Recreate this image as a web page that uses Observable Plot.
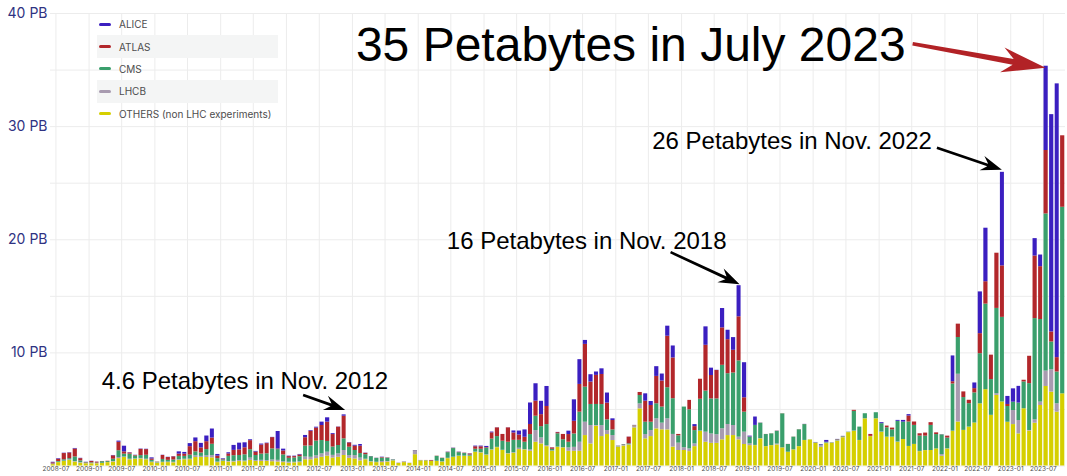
<!DOCTYPE html>
<html><head><meta charset="utf-8">
<script src="https://cdn.jsdelivr.net/npm/d3@7"></script>
<script src="https://cdn.jsdelivr.net/npm/@observablehq/plot@0.6"></script>
<style>
body{margin:0;background:#fff;}
#wrap{position:relative;width:1067px;height:476px;}
#legend{position:absolute;left:97px;top:13px;width:181px;font-family:Inter,sans-serif;font-size:10px;color:#4d4d4d;z-index:2;}
.row{height:22.4px;display:flex;align-items:center;}
.row.alt{background:#f4f5f5;}
.sw{width:12px;height:3px;border-radius:1.5px;margin-left:2px;margin-right:8px;}
</style></head><body><div id="wrap"><div id="legend"></div></div>
<script>
// Monthly transfer volume (PB), June 2008 .. October 2023
const firstMonth = "2008-06";
const others = [
.12,.30,.40,.50,.35,.25,.20,.20,.20,.22,.30,.35,
.65,.75,.55,.60,.62,.55,.30,.25,.30,.30,.28,.50,
.55,.56,.75,.75,.75,.72,.30,.40,.35,.35,.40,.38,
.50,.40,.40,.40,.38,.35,.30,.25,.28,.30,.55,.55,
.65,.77,.87,.70,.77,.93,.68,.62,.45,.55,.35,.30,
.30,.35,.45,.22,.30,.23,1.00,.45,.45,.40,.40,.35,
.65,.75,.85,.85,.85,1.20,1.15,.95,1.40,1.62,1.37,1.07,
1.12,1.45,1.42,1.30,2.10,1.95,1.71,1.30,1.65,1.60,1.30,1.30,
1.30,2.69,1.95,3.52,2.60,2.78,2.25,1.66,1.76,1.85,3.37,5.05,
2.40,2.60,3.28,3.20,3.19,1.67,1.37,1.37,1.27,1.71,3.07,2.10,
2.00,2.00,2.31,2.69,2.69,2.31,1.90,1.80,1.80,2.40,1.71,1.80,
1.86,1.60,1.21,1.42,1.71,2.25,2.30,2.00,1.65,1.98,2.00,2.20,
2.50,2.95,3.07,2.25,4.17,2.60,4.17,2.98,2.55,2.55,2.10,2.34,
1.73,1.90,1.27,1.36,1.37,1.51,.86,1.50,3.06,3.89,3.15,3.44,
3.80,5.50,6.75,4.48,6.24,5.66,3.87,3.66,2.84,5.06,3.09,3.78,
5.35,7.03,6.53,4.76,6.38];
const lhcb = [
.03,.03,.03,.05,.05,.05,.03,.03,.02,.02,.01,.05,
.10,.05,.05,.03,.05,.05,.05,.03,.03,.05,.05,.05,
.05,.05,.15,.10,.15,.20,.05,.04,.05,.06,.08,.06,
.20,.08,.10,.08,.15,.15,.08,.08,.05,.07,.24,.22,
.25,.30,.35,.24,.30,.44,.24,.30,.25,.05,.03,.03,
.10,.05,.02,.01,.05,.02,.30,.02,.01,.01,.02,.02,
.03,.03,.03,.02,.02,.03,.03,.03,.03,.03,.02,.03,
.05,.12,.03,.12,1.03,.53,.09,.03,.02,.02,.30,.35,
.80,1.18,1.63,.06,.97,.35,.44,.05,.06,.03,.15,.44,
.38,.53,.89,.59,.98,1.12,.65,.24,.24,.24,.02,.89,
.83,.77,.98,.98,.89,.24,1.09,.15,.02,.02,.01,.01,
.08,.01,.01,.01,.01,.01,.00,.03,.15,.05,.01,.03,
.04,.03,.02,.01,.01,.02,.01,.02,.00,.00,.02,.00,
.00,.01,.02,.01,.00,.00,.15,.02,.02,4.22,.00,.00,
.00,.00,.00,.00,.15,.00,.00,1.24,1.18,.00,.05,.30,
.30,1.36,1.98,.74,.00];
const cms = [
.03,.07,.12,.10,.40,.15,.05,.05,.04,.14,.08,.20,
.60,.25,.45,.25,.25,.35,.15,.05,.25,.15,.20,.30,
.25,.35,.35,.30,.55,1.00,.30,.10,.45,.50,.45,.55,
.74,.45,.55,.60,.98,.95,.60,.35,.38,.45,.97,1.00,
1.30,1.18,.95,.74,.74,1.03,.74,.45,.40,.40,.44,.34,
.30,.28,.06,.01,.01,.00,.03,.01,.02,.02,.43,.30,
.50,.76,.30,.23,.10,.25,.30,.60,.95,.95,.80,1.00,
1.10,.70,.65,1.36,1.27,1.00,1.86,.15,1.18,.70,.50,1.18,
2.66,3.10,1.86,1.86,1.86,.95,.50,.03,.05,.08,.03,.74,
1.09,.74,1.33,1.42,2.75,3.16,.65,3.60,3.46,1.18,2.81,3.63,
3.10,3.16,5.61,4.49,4.64,6.74,1.77,.60,1.77,1.36,1.06,1.03,
1.12,3.00,.68,1.12,1.48,1.40,.01,.03,.05,.05,.03,.07,
.05,.02,1.74,1.18,.44,.00,.53,.74,.83,.65,1.83,1.54,
2.16,1.68,1.36,1.27,2.22,1.27,1.74,.95,4.17,3.25,2.90,2.07,
2.66,4.43,7.56,3.16,7.54,7.48,1.39,.74,1.54,2.37,4.14,8.95,
7.30,13.89,2.45,2.81,16.49];
const atlas = [
.10,.20,.55,.50,.70,.20,.03,.12,.08,.02,.03,.30,
.75,.20,.10,.05,.55,.50,.12,.02,.35,.25,.28,.20,
.20,.75,.90,.45,.70,.55,.22,.05,.22,.47,.50,.62,
.80,.30,.80,.90,1.00,.05,.35,.15,.12,.15,.74,1.30,
1.15,1.33,1.71,1.10,1.62,2.00,.38,.38,.65,.12,.01,.01,
.05,.03,.01,.01,.01,.00,.02,.01,.01,.06,.02,.02,
.03,.02,.03,.03,.09,.22,.22,.05,.55,.77,.60,1.27,
.65,.47,.44,.89,1.33,1.06,1.60,.12,.10,.47,.68,1.12,
2.45,3.78,1.98,2.57,2.66,1.48,.83,.01,.02,.59,.03,.27,
1.86,1.48,2.42,2.30,4.55,3.60,.12,.00,.83,.35,1.77,4.05,
2.07,2.51,3.31,3.01,2.01,3.90,1.27,.02,.00,.01,.01,.01,
.02,.01,.01,.01,.01,.01,.00,.01,.00,.02,.01,.03,
.02,.00,.09,.00,.00,.17,.00,.00,.15,.15,.00,.00,
.53,.30,.20,.27,.24,.15,.01,.17,.20,1.18,.50,.30,
.38,1.77,1.98,2.16,4.88,4.55,.18,.00,.00,.15,2.42,5.53,
4.67,5.61,.89,1.27,6.32];
const alice = [
.05,.05,.03,.03,.05,.03,.02,.02,.01,.00,.00,.03,
.10,.50,.03,.02,.03,.03,.10,.00,.02,.02,.02,.20,
.15,.27,.33,.40,.50,.80,.15,.05,.10,.44,.59,.44,
.08,.06,.09,.04,.02,1.55,.16,.04,.04,.05,.20,.06,
.08,.30,.38,.08,.02,.12,.03,.08,.15,.02,.01,.01,
.03,.01,.01,.00,.00,.00,.02,.00,.00,.00,.00,.00,
.02,.02,.02,.01,.02,.06,.06,.10,.07,.01,.00,.01,
.18,.35,.65,1.90,1.54,1.18,1.77,.01,.02,.00,.30,1.90,
2.19,.35,.65,.30,.50,.89,.15,.01,.01,.01,.01,.00,
.65,.35,.86,.62,.89,1.06,.00,.00,.00,.18,.00,1.63,
.65,.02,1.71,.83,1.12,2.75,3.10,.07,.74,.01,.00,.00,
.01,.00,.00,.00,.00,.01,.00,.01,.05,.16,.00,.02,
.01,.00,.00,.00,.00,.00,.00,.09,.00,.00,.08,.15,
.12,.00,.00,.00,.00,.00,.01,.00,2.28,.00,.00,.00,
.50,3.69,4.73,.00,.00,8.27,.71,1.18,1.48,.00,.00,1.54,
1.03,7.45,19.21,24.20,.00];

const seriesNames = ["ALICE", "ATLAS", "CMS", "LHCB", "OTHERS (non LHC experiments)"];
const seriesColors = ["#3b1fc0", "#b2272b", "#3a9f6c", "#a89bb0", "#d5cf00"];
const stackOrder = ["OTHERS (non LHC experiments)", "LHCB", "CMS", "ATLAS", "ALICE"];
const yTicks = [10, 20, 30, 40];
const yGrid = [0, 5, 10, 15, 20, 25, 30, 35, 40];

const annotations = [
  {text: "35 Petabytes in July 2023", month: "2023-07", size: 48, color: "#b22226", red: true,
   tip: [0, 2], tail: [-133, -24], label: [-140, -7]},
  {text: "26 Petabytes in Nov. 2022", month: "2022-11", size: 24, color: "#000",
   tip: [0, -2], tail: [-65, -22], label: [-70, -21]},
  {text: "16 Petabytes in Nov. 2018", month: "2018-11", size: 24, color: "#000",
   tip: [1, -1], tail: [-69, -32], label: [-13, -35]},
  {text: "4.6 Petabytes in Nov. 2012", month: "2012-11", size: 24, color: "#000",
   tip: [1.5, -4.4], tail: [-42, -15], label: [43, -21]}
];

const parse = d3.utcParse("%Y-%m");
const start = parse(firstMonth);
const months = d3.range(others.length).map(i => d3.utcMonth.offset(start, i));
const end = d3.utcMonth.offset(start, others.length);
const valuesBy = {"ALICE": alice, "ATLAS": atlas, "CMS": cms, "LHCB": lhcb, "OTHERS (non LHC experiments)": others};
const rows = stackOrder.flatMap(name => valuesBy[name].map((v, i) => ({
  series: name, date: months[i], end: d3.utcMonth.offset(months[i], 1), value: v
})));
const xTicks = months.filter(d => d.getUTCMonth() === 0 || d.getUTCMonth() === 6);
const fmt = d3.utcFormat("%Y-%m");

const plot = Plot.plot({
  width: 1067, height: 476,
  marginTop: 13, marginBottom: 10.5, marginLeft: 50, marginRight: 2,
  style: {fontFamily: "Inter, sans-serif", background: "transparent", overflow: "visible"},
  x: {type: "utc", domain: [start, end], axis: null},
  y: {domain: [0, 40], axis: null},
  color: {domain: seriesNames, range: seriesColors},
  marks: [
    Plot.ruleY(yGrid, {stroke: "#ececec", strokeWidth: 1}),
    Plot.ruleX(xTicks, {stroke: "#ececec", strokeWidth: 1}),
    Plot.rectY(rows, {x1: "date", x2: "end", y: "value", fill: "series", order: stackOrder, insetLeft: 0.7, insetRight: 0.7}),
    Plot.text(yTicks, {y: d => d, text: d => `${d} PB`, frameAnchor: "left", textAnchor: "end", dx: -3, fontSize: 14, fill: "#2f3282"}),
    Plot.text(xTicks, {x: d => d, text: d => fmt(d), frameAnchor: "bottom", dy: 5, fontSize: 6.5, fill: "#4d4d4d"})
  ]
});
document.getElementById("wrap").prepend(plot);

// annotations placed from the scales
const sx = plot.scale("x"), sy = plot.scale("y");
const svg = d3.select(plot);
function arrowPath(x0, y0, x1, y1, w0, w1, L, H, n) {
  const dx = x1 - x0, dy = y1 - y0, len = Math.hypot(dx, dy);
  const ux = dx / len, uy = dy / len, vx = -uy, vy = ux;
  const bx = x1 - ux * L, by = y1 - uy * L;
  const nx = x1 - ux * (L - n), ny = y1 - uy * (L - n);
  const p = [[x0 + vx * w0 / 2, y0 + vy * w0 / 2], [nx + vx * w1 / 2, ny + vy * w1 / 2], [bx + vx * H, by + vy * H], [x1, y1],
             [bx - vx * H, by - vy * H], [nx - vx * w1 / 2, ny - vy * w1 / 2], [x0 - vx * w0 / 2, y0 - vy * w0 / 2]];
  return "M" + p.map(q => q.map(v => v.toFixed(2)).join(",")).join("L") + "Z";
}
const g = svg.append("g");
annotations.forEach(a => {
  const i = months.findIndex(d => fmt(d) === a.month);
  const total = others[i] + lhcb[i] + cms[i] + atlas[i] + alice[i];
  const mid = new Date((+months[i] + +d3.utcMonth.offset(months[i], 1)) / 2);
  const tx = sx.apply(mid) + a.tip[0], ty = sy.apply(total) + a.tip[1];
  const bx = tx + a.tail[0], by = ty + a.tail[1];
  const d = a.red ? arrowPath(bx, by, tx, ty, 3.5, 6, 44, 12.5, 11) : arrowPath(bx, by, tx, ty, 2.6, 2.8, 21, 7.5, 6);
  g.append("path").attr("d", d).attr("fill", a.color);
  g.append("text").attr("x", tx + a.label[0]).attr("y", ty + a.label[1])
    .attr("text-anchor", "end").attr("font-family", "'Liberation Sans', Arial, sans-serif")
    .attr("font-size", a.size).attr("fill", "#000").text(a.text);
});

// legend
const legend = d3.select("#legend");
seriesNames.forEach((name, k) => {
  const row = legend.append("div").attr("class", "row" + (k % 2 ? " alt" : ""));
  row.append("div").attr("class", "sw").style("background", seriesColors[k]);
  row.append("span").text(name);
});
</script>
</body></html>
